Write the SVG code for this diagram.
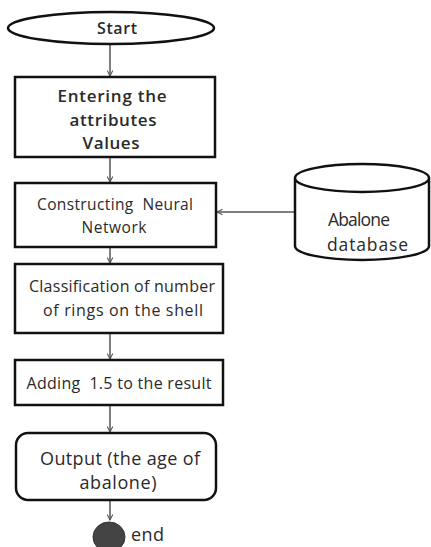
<svg xmlns="http://www.w3.org/2000/svg" width="431" height="547" viewBox="0 0 431 547">
<style>
.shape{fill:#fff;stroke:#111;stroke-width:2.5}
.t{font-family:"Open Sans",Lato,sans-serif;fill:#2a2a2a;text-anchor:middle;white-space:pre}
.s{font-family:"Open Sans",Lato,sans-serif;fill:#2a2a2a;white-space:pre}
.b{font-weight:600}
.c{stroke:#555;stroke-width:1.5;fill:none;marker-end:url(#ah)}
</style>
<defs>
<marker id="ah" viewBox="0 0 10 10" refX="9" refY="5" markerWidth="7" markerHeight="7" orient="auto" markerUnits="userSpaceOnUse">
<path d="M1,1 L9,5 L1,9" fill="none" stroke="#555" stroke-width="1.5"/>
</marker>
</defs>
<g id="connectors">
<line class="c" x1="110" y1="45" x2="110" y2="76"/>
<line class="c" x1="110" y1="158" x2="110" y2="182"/>
<line class="c" x1="110" y1="248" x2="110" y2="263"/>
<line class="c" x1="110" y1="334" x2="110" y2="359"/>
<line class="c" x1="110" y1="406" x2="110" y2="432"/>
<line class="c" x1="110" y1="501" x2="110" y2="520"/>
<line class="c" x1="295" y1="212" x2="217" y2="212"/>
</g>
<g id="start">
<ellipse class="shape" cx="111" cy="28" rx="103" ry="16"/>
<text class="t b" x="117" y="34" font-size="16" textLength="40">Start</text>
</g>
<g id="enter">
<rect class="shape" x="15" y="77" width="200" height="80"/>
<text class="t b" x="112" y="102" font-size="17" textLength="109">Entering the</text>
<text class="t b" x="113" y="126" font-size="17" textLength="87">attributes</text>
<text class="t b" x="111" y="149" font-size="17" textLength="57">Values</text>
</g>
<g id="construct">
<rect class="shape" x="15" y="183" width="201" height="64"/>
<text class="t" x="115" y="210" font-size="15.5" textLength="156" xml:space="preserve">Constructing  Neural</text>
<text class="t" x="114" y="233" font-size="15.5" textLength="65">Network</text>
</g>
<g id="database">
<path class="shape" d="M295,178 V246 A67,14 0 0 0 429,246 V178 A67,14 0 0 0 295,178 A67,14 0 0 0 429,178"/>
<text class="s" x="328" y="226" font-size="17.5" textLength="62">Abalone</text>
<text class="s" x="327" y="251" font-size="17.5" textLength="81">database</text>
</g>
<g id="classify">
<rect class="shape" x="15" y="264" width="208" height="69"/>
<text class="t" x="122" y="292" font-size="16" textLength="186">Classification of number</text>
<text class="t" x="123" y="316" font-size="16" textLength="160">of rings on the shell</text>
</g>
<g id="adding">
<rect class="shape" x="15" y="360" width="208" height="45"/>
<text class="t" x="119" y="389" font-size="16" textLength="185" xml:space="preserve">Adding  1.5 to the result</text>
</g>
<g id="output">
<rect class="shape" x="16" y="433" width="200" height="67" rx="12"/>
<text class="t" x="120" y="465" font-size="18" textLength="160">Output (the age of</text>
<text class="t" x="118" y="489" font-size="18" textLength="77">abalone)</text>
</g>
<g id="end">
<ellipse cx="109" cy="537" rx="16" ry="15" fill="#444" stroke="#333" stroke-width="1"/>
<text class="s" x="131" y="541" font-size="18" textLength="33">end</text>
</g>
</svg>
